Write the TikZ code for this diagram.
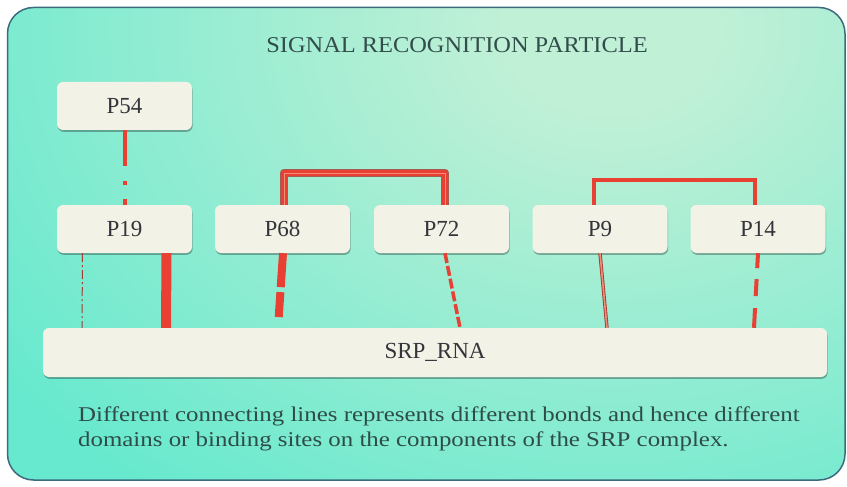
\documentclass[tikz,border=0pt]{standalone}
\usepackage{fontspec}
\setmainfont{Liberation Serif}
\newfontfamily\captionfont[FakeStretch=1.185]{Liberation Serif}
\newfontfamily\headfont[FakeStretch=1.08]{Liberation Serif}
\usetikzlibrary{shadows,calc}

\definecolor{turq}{RGB}{102,233,206}
\definecolor{mint}{RGB}{192,240,214}
\definecolor{framec}{RGB}{60,106,126}
\definecolor{cream}{RGB}{242,242,230}
\definecolor{bondred}{RGB}{232,64,50}
\definecolor{bonddark}{RGB}{160,62,52}
\definecolor{bondbrown}{RGB}{165,92,82}
\definecolor{bondpink}{RGB}{244,140,122}
\definecolor{labelc}{RGB}{52,53,58}
\definecolor{titlec}{RGB}{50,78,76}
\definecolor{descc}{RGB}{46,76,72}

\pgfdeclareradialshading{glow}{\pgfpoint{0bp}{0bp}}{color(0bp)=(mint); color(3bp)=(mint); color(21bp)=(turq); color(50bp)=(turq)}

\begin{document}
\begin{tikzpicture}[x=1pt,y=-1pt,
  comp/.style={rectangle, rounded corners=6pt, fill=cream, minimum width=135pt,
    minimum height=48pt, inner sep=0pt, font=\fontsize{23}{26}\selectfont, text=labelc,
    drop shadow={shadow xshift=0.6pt, shadow yshift=-1.8pt, opacity=0.3, fill=black}},
  dashdotbond/.style={draw=bondred, line width=4pt, dash pattern=on 36pt off 15pt on 4pt off 14pt on 6pt},
  finebond/.style={draw=bonddark, line width=1pt, dash pattern=on 9pt off 3pt on 2pt off 3pt},
  heavybond/.style={draw=bondred, line width=10pt},
  brokenbond/.style={draw=bondred, line width=8pt, dash pattern=on 34pt off 5pt on 25pt off 20pt},
  dashbond/.style={draw=bondred, line width=3.5pt, dash pattern=on 10pt off 3pt},
  longdashbond/.style={draw=bondred, line width=4pt, dash pattern=on 15pt off 11pt on 17pt off 12pt on 20pt},
  triplebond/.style={draw=bondbrown, line width=8.5pt, line join=round,
    postaction={draw=bondred, line width=6.5pt, line join=round},
    postaction={draw=bondpink, line width=0.6pt, line join=round}},
  plainbond/.style={draw=bondred, line width=3.5pt},
  doublebond/.style={draw=bonddark, line width=0.9pt, double=bondpink, double distance=1.6pt}
]
\useasboundingbox (0,0) rectangle (847,487);

% background panel
\begin{scope}
  \clip[rounded corners=26pt] (7.5,7.5) rectangle (845,480);
  \fill[turq] (0,0) rectangle (847,487);
  \shade[shading=glow] (610,30) ellipse [x radius=900, y radius=700];
\end{scope}
\draw[framec, line width=1.5pt, rounded corners=26pt] (7.5,7.5) rectangle (845,480);

% title
\node[font=\headfont\fontsize{22.6}{26}\selectfont, text=titlec] (title) at (457,45) {SIGNAL RECOGNITION PARTICLE};

% components
\node[comp] (p54) at (124.5,106) {P54};
\node[comp] (p19) at (124.5,229) {P19};
\node[comp] (p68) at (282.5,229) {P68};
\node[comp] (p72) at (441.5,229) {P72};
\node[comp] (p9)  at (600,229) {P9};
\node[comp] (p14) at (758,229) {P14};
\node[comp, minimum width=784pt, minimum height=49pt] (rna) at (435,352.5) {SRP\_RNA};

% bonds
\draw[dashdotbond] (p54.south) -- (p19.north);
\draw[finebond] ($(p19.south)+(-42,0)$) -- ($(rna.north)+(-353,0)$);
\draw[heavybond] ($(p19.south)+(42,0)$) -- ($(rna.north)+(-269,0)$);
\draw[brokenbond] ($(p68.south)+(0.5,0)$) -- ($(rna.north)+(-157,0)$);
\draw[dashbond] ($(p72.south)+(3.5,0)$) -- ($(rna.north)+(25,0)$);
\draw[doublebond] (p9.south) -- ($(rna.north)+(172,0)$);
\draw[longdashbond] (p14.south) -- ($(rna.north)+(319,0)$);
\draw[triplebond] ($(p68.north)+(1.5,0)$) -- ++(0,-32) -| ($(p72.north)+(3.5,0)$);
\draw[plainbond] ($(p9.north)+(-6,0)$) -- ++(0,-25) -| ($(p14.north)+(-3,0)$);

% caption
\node[anchor=base west, inner sep=0pt, font=\captionfont\fontsize{21}{25}\selectfont, text=descc] (desc1) at (78,421)
  {Different connecting lines represents different bonds and hence different};
\node[anchor=base west, inner sep=0pt, font=\captionfont\fontsize{21}{25}\selectfont, text=descc] (desc2) at (78,446)
  {domains or binding sites on the components of the SRP complex.};
\end{tikzpicture}
\end{document}
